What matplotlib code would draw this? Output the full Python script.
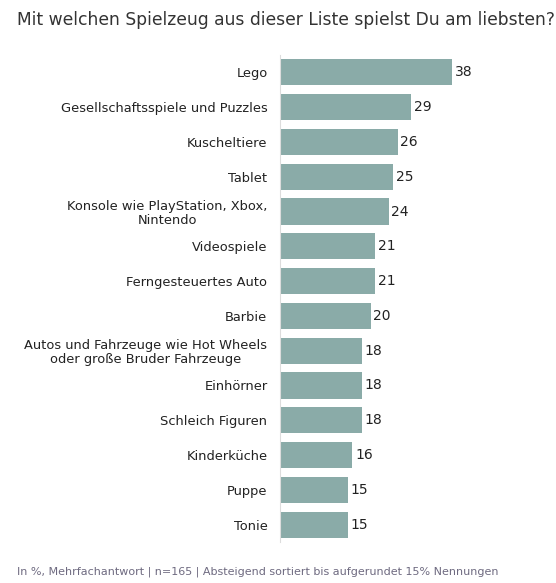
import matplotlib.pyplot as plt
import numpy as np

categories = [
    "Lego",
    "Gesellschaftsspiele und Puzzles",
    "Kuscheltiere",
    "Tablet",
    "Konsole wie PlayStation, Xbox,\nNintendo",
    "Videospiele",
    "Ferngesteuertes Auto",
    "Barbie",
    "Autos und Fahrzeuge wie Hot Wheels\noder große Bruder Fahrzeuge",
    "Einhörner",
    "Schleich Figuren",
    "Kinderküche",
    "Puppe",
    "Tonie",
]
values = [38, 29, 26, 25, 24, 21, 21, 20, 18, 18, 18, 16, 15, 15]

title = "Mit welchen Spielzeug aus dieser Liste spielst Du am liebsten?"
footnote = "In %, Mehrfachantwort | n=165 | Absteigend sortiert bis aufgerundet 15% Nennungen"

bar_color = "#8aaba8"
plt.rcParams["font.family"] = ["DejaVu Sans"]

W, H = 556, 583
fig = plt.figure(figsize=(W / 100, H / 100), dpi=100)
ax = fig.add_axes([280 / W, (H - 542) / H, (W - 280) / W, 487 / H])

y = np.arange(len(categories))
ax.barh(y, values, height=0.75, color=bar_color)
ax.set_ylim(len(categories) - 0.5, -0.5)
ax.set_xlim(0, (W - 280) / 4.53)

for yi, v in zip(y, values):
    ax.text(v + 0.6, yi, str(v), va="center", ha="left", fontsize=10, color="#222222")

ax.set_yticks(y)
ax.set_yticklabels(categories, fontsize=9.4, color="#222222", linespacing=1.1,
                   multialignment="center")
ax.tick_params(axis="y", length=0, pad=9)
ax.set_xticks([])
for side in ["top", "right", "bottom"]:
    ax.spines[side].set_visible(False)
ax.spines["left"].set_color("#dddddd")
ax.spines["left"].set_linewidth(0.8)

fig.text(17 / W, 1 - 20 / H, title, fontsize=12.3, color="#333333", va="center", ha="left")
fig.text(17 / W, 1 - 572 / H, footnote, fontsize=8, color="#6e6a80", va="center", ha="left")

fig.savefig("out.png", dpi=100)
plt.close(fig)
